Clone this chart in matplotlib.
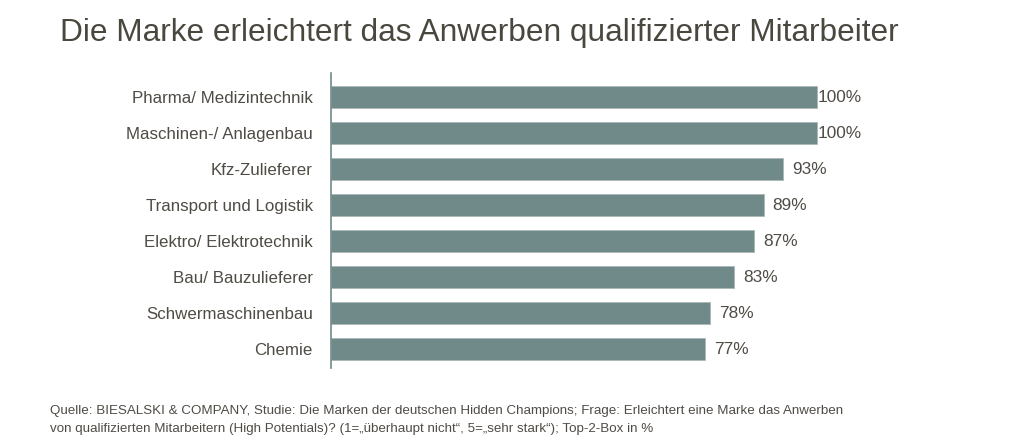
import matplotlib
matplotlib.use("Agg")
import matplotlib.pyplot as plt

categories = ["Pharma/ Medizintechnik", "Maschinen-/ Anlagenbau", "Kfz-Zulieferer",
              "Transport und Logistik", "Elektro/ Elektrotechnik", "Bau/ Bauzulieferer",
              "Schwermaschinenbau", "Chemie"]
values = [100, 100, 93, 89, 87, 83, 78, 77]
value_labels = ["100%", "100%", "93%", "89%", "87%", "83%", "78%", "77%"]

title = "Die Marke erleichtert das Anwerben qualifizierter Mitarbeiter"
footer = ("Quelle: BIESALSKI & COMPANY, Studie: Die Marken der deutschen Hidden Champions; Frage: Erleichtert eine Marke das Anwerben\n"
          "von qualifizierten Mitarbeitern (High Potentials)? (1=\u201eüberhaupt nicht\u201c, 5=\u201esehr stark\u201c); Top-2-Box in %")

plt.rcParams['font.family'] = ['Liberation Sans', 'DejaVu Sans']

W, H = 1024, 447
fig = plt.figure(figsize=(W / 100, H / 100), dpi=100)

bar_color = "#6f8a88"
text_color = "#4f4b45"

x0, x100 = 331, 817
xmax = 110
ax_w = (x100 - x0) / 100 * xmax
top_px, bot_px = 73, 368
ax = fig.add_axes([x0 / W, 1 - bot_px / H, ax_w / W, (bot_px - top_px) / H])

y = list(range(len(categories)))
ax.barh(y, values, height=0.61, color=bar_color, edgecolor="#a9b9b7", linewidth=0.6)
ax.set_xlim(0, xmax)
c0 = 97
sp = 36
ax.set_ylim((bot_px - c0) / sp, (top_px - c0) / sp)

for yi, v, lab in zip(y, values, value_labels):
    off = 1 if v >= 100 else 9
    ax.annotate(lab, (v, yi), xytext=(off * 0.72, 0), textcoords="offset points",
                ha="left", va="center", fontsize=12.4, color=text_color, annotation_clip=False)

ax.set_yticks(y)
ax.set_yticklabels(categories, fontsize=12.2, color=text_color)
ax.tick_params(axis="y", length=0, pad=13)
ax.set_xticks([])
for s in ["top", "right", "bottom"]:
    ax.spines[s].set_visible(False)
ax.spines["left"].set_color("#6f8a88")
ax.spines["left"].set_linewidth(1.2)

fig.text(60 / W, 1 - 33 / H, title, fontsize=22.8, color="#4a473f", ha="left", va="center")
fig.text(50 / W, 1 - 420 / H, footer, fontsize=9.66, color=text_color, ha="left", va="center",
         linespacing=1.6)

fig.savefig("out.png", dpi=100)
